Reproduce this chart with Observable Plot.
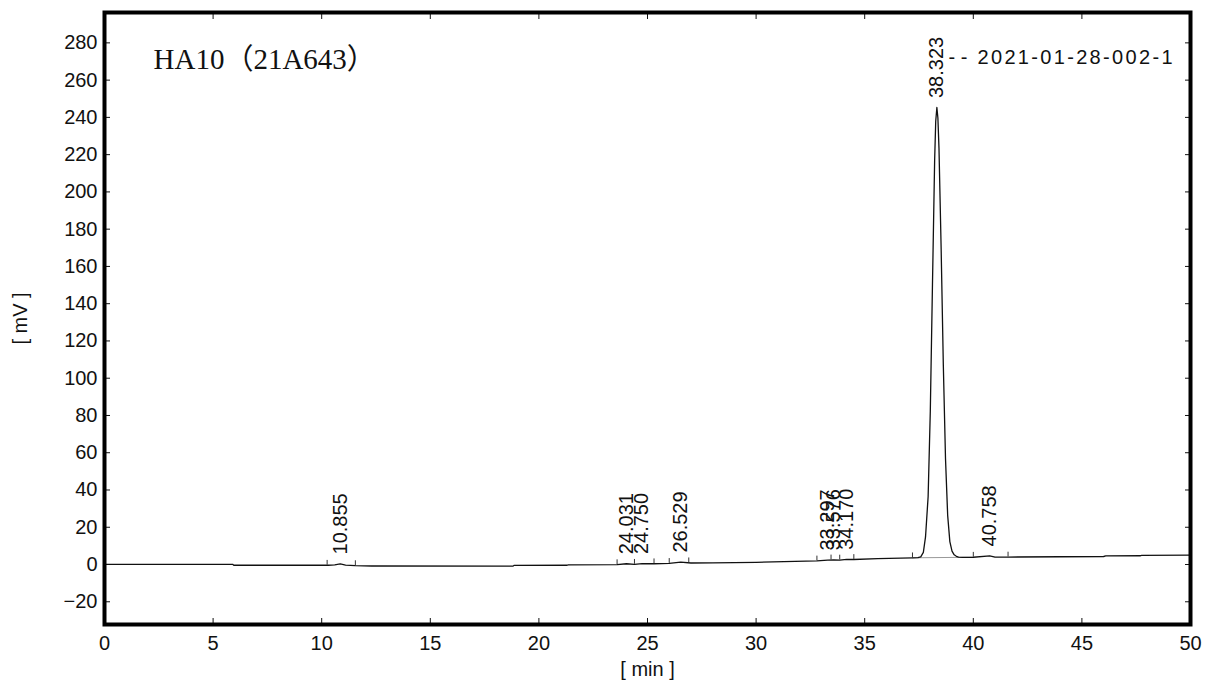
<!DOCTYPE html>
<html><head><meta charset="utf-8">
<script src="https://cdn.jsdelivr.net/npm/d3@7"></script>
<script src="https://cdn.jsdelivr.net/npm/@observablehq/plot@0.6"></script>
<style>body{margin:0;background:#fff}</style>
</head><body><div id="chart"></div>
<script>
// Chromatogram trace (time in min, signal in mV)
const traceTime = [0, 5.9, 5.95, 10.3, 10.6, 10.855, 11.1, 11.55, 12.3, 18.8, 18.85, 21.3, 21.35, 23.6, 24.031, 24.4, 24.75, 25.3, 26.0, 26.529, 27.0, 28.0, 30.0, 32.8, 33.297, 33.576, 33.85, 34.17, 34.5, 35.6, 37.2,
  37.45, 37.58, 37.7, 37.8, 37.92, 38.02, 38.12, 38.22, 38.27, 38.323, 38.37, 38.42, 38.52, 38.62, 38.72, 38.82, 38.92, 39.02, 39.12, 39.22, 39.32, 39.5,
  40.0, 40.758, 41.0, 41.6, 46.0, 46.1, 47.7, 47.75, 50];
const traceMV = [0.1, 0.1, -0.4, -0.4, -0.2, 0.3, -0.3, -0.6, -0.8, -0.9, -0.5, -0.4, -0.2, -0.1, 0.4, 0.1, 0.5, 0.4, 0.6, 1.3, 0.8, 0.9, 1.2, 1.9, 2.4, 2.5, 2.4, 2.8, 2.7, 3.2, 3.6,
  3.65, 4.1, 6.5, 14.8, 36.4, 82.1, 150.2, 216.9, 237.9, 245.3, 239.7, 223.5, 169.2, 106.9, 56.9, 26.4, 12.3, 7.2, 5.2, 4.4, 4.0, 3.8,
  3.9, 4.6, 4.0, 4.0, 4.3, 4.6, 4.7, 4.9, 5.0];

// Peak retention-time labels
const peakTimes = [10.855, 24.031, 24.750, 26.529, 33.297, 33.576, 34.170, 38.323, 40.758];
const peakLabels = ["10.855", "24.031", "24.750", "26.529", "33.297", "33.576", "34.170", "38.323", "40.758"];

// Integration start/end markers
const markTimes = [10.25, 11.55, 23.6, 24.4, 25.3, 26.0, 26.9, 32.8, 33.45, 33.85, 34.5, 37.2, 40.0, 41.6];

// Drawn baseline under the main peak
const baselineTimes = [37.2, 40.0];
const baselineMV = [3.6, 3.9];

const xTicks = [0, 5, 10, 15, 20, 25, 30, 35, 40, 45, 50];
const yTicks = [-20, 0, 20, 40, 60, 80, 100, 120, 140, 160, 180, 200, 220, 240, 260, 280];

const titleText = "HA10（21A643）";
const legendLabel = "2021-01-28-002-1";
const xLabel = "[ min ]";
const yLabel = "[ mV ]";

const trace = traceTime.map((t, i) => ({t, v: traceMV[i]}));
const bis = d3.bisector(d => d.t).left;
function interp(t) {
  const i = bis(trace, t);
  if (i <= 0) return trace[0].v;
  if (i >= trace.length) return trace[trace.length - 1].v;
  const a = trace[i - 1], b = trace[i];
  return a.v + (b.v - a.v) * (t - a.t) / (b.t - a.t);
}
const peaks = peakTimes.map((t, i) => ({t, v: interp(t), label: peakLabels[i]}));
const marks = markTimes.map(t => ({t, v: interp(t)}));
const baseline = baselineTimes.map((t, i) => ({t, v: baselineMV[i]}));

const font = "Liberation Sans, Arial, sans-serif";
const chart = Plot.plot({
  width: 1210, height: 682,
  marginLeft: 104, marginRight: 20, marginTop: 12, marginBottom: 58,
  style: {fontFamily: font, fontSize: "20px", color: "#111", background: "#fff"},
  x: {domain: [0, 50]},
  y: {domain: [-32.2, 296.3]},
  marks: [
    Plot.axisX({anchor: "bottom", ticks: xTicks, tickSize: 0, tickPadding: 11, fontSize: 20, label: null}),
    Plot.axisX({anchor: "bottom", ticks: xTicks, tickSize: -6, tickFormat: () => "", label: null}),
    Plot.axisX({anchor: "top", ticks: xTicks, tickSize: -6, tickFormat: () => "", label: null}),
    Plot.axisY({anchor: "left", ticks: yTicks, tickSize: 0, tickPadding: 7, fontSize: 20, label: null}),
    Plot.axisY({anchor: "left", ticks: yTicks, tickSize: -6, tickFormat: () => "", label: null}),
    Plot.axisY({anchor: "right", ticks: yTicks, tickSize: -6, tickFormat: () => "", label: null}),
    Plot.line(baseline, {x: "t", y: "v", stroke: "#999", strokeWidth: 1}),
    Plot.line(trace, {x: "t", y: "v", stroke: "#111", strokeWidth: 1.3}),
    Plot.ruleX(marks, {x: "t", y1: "v", y2: d => d.v + 2.6, stroke: "#333", strokeWidth: 1}),
    Plot.text(peaks, {x: "t", y: "v", text: "label", rotate: -90, textAnchor: "start", lineAnchor: "middle", dy: -9.5, fontSize: 20, fill: "#111"}),
    Plot.text([titleText], {frameAnchor: "top-left", dx: 49, dy: 47, textAnchor: "start", lineAnchor: "middle", fontSize: 29, fontFamily: "Liberation Serif, Noto Sans CJK JP, serif", fill: "#111"}),
    Plot.text([legendLabel], {frameAnchor: "top-right", dx: -18, dy: 45, textAnchor: "end", lineAnchor: "middle", fontSize: 20, fill: "#111"}),
    Plot.text(["- -"], {frameAnchor: "top-right", dx: -223, dy: 45, textAnchor: "end", lineAnchor: "middle", fontSize: 20, fill: "#111"}),
    Plot.text([yLabel], {frameAnchor: "left", dx: -84, rotate: -90, textAnchor: "middle", lineAnchor: "middle", fontSize: 20, fill: "#111"}),
    Plot.text([xLabel], {frameAnchor: "bottom", dy: 45, textAnchor: "middle", lineAnchor: "middle", fontSize: 20, fill: "#111"}),
    Plot.frame({stroke: "black", strokeWidth: 4})
  ]
});
d3.select(chart).selectAll("text").filter(function() { return this.textContent === legendLabel; })
  .attr("textLength", 195).attr("lengthAdjust", "spacing");
document.getElementById("chart").appendChild(chart);
</script>
</body></html>
